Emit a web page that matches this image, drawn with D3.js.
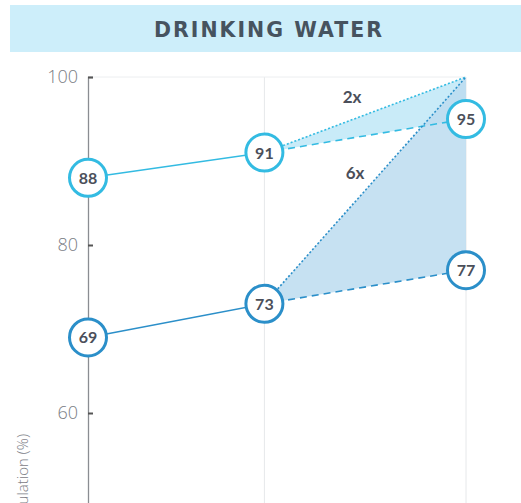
<!DOCTYPE html>
<html><head><meta charset="utf-8">
<script src="https://cdn.jsdelivr.net/npm/d3@7"></script>
<style>html,body{margin:0;padding:0;background:#fff;overflow:hidden}</style>
</head><body>
<svg id="c" width="521" height="503"></svg>
<script>
const title = "DRINKING WATER";
const yLabel = "Population (%)";
const years = [2000, 2014, 2030];
const seriesNames = ["upper", "lower"];
const observed = [[88, 91], [69, 73]];      // values at years[0], years[1]
const projected = [95, 77];                  // projection at years[2]
const target = 100;
const accel = ["2x", "6x"];
const yTicks = [60, 80, 100];

const colors = ["#33bbe2", "#2b8fc9"];
const fills = ["#bfe8f7", "#bcdcf0"];

const svg = d3.select("#c");
const x = d3.scaleLinear().domain([2000, 2030]).range([88, 466]);
const y = d3.scaleLinear().domain([0, 100]).range([917, 77]);

// title band
svg.append("rect").attr("x", 10).attr("y", 5).attr("width", 511).attr("height", 47).attr("fill", "#cdeefa");
svg.append("text").attr("x", 269).attr("y", 36.5).attr("text-anchor", "middle")
  .attr("font-family", "'DejaVu Sans', sans-serif").attr("font-weight", 700).attr("font-size", 20.5)
  .attr("letter-spacing", 2)
  .attr("fill", "#46535f").text(title);

// gridlines
const g = svg.append("g");
g.selectAll("line.v").data(years.slice(1)).join("line")
  .attr("x1", d => x(d)).attr("x2", d => x(d)).attr("y1", y(100)).attr("y2", 503)
  .attr("stroke", "#e6e8ea").attr("stroke-width", 1);
g.append("line").attr("x1", x(2000)).attr("x2", x(2030)).attr("y1", y(100)).attr("y2", y(100))
  .attr("stroke", "#eceef0");

// y axis
const ax = svg.append("g").attr("transform", `translate(${x(2000)},0)`)
  .call(d3.axisRight(y).tickValues(yTicks).tickSize(5).tickFormat(""));
ax.select(".domain").attr("stroke", "#8a8d92").attr("stroke-width", 1.3);
ax.selectAll(".tick line").attr("stroke", "#555").attr("stroke-width", 2);
svg.selectAll("text.yt").data(yTicks).join("text").attr("class", "yt")
  .attr("x", 78).attr("y", d => y(d) + 6).attr("text-anchor", "end")
  .attr("font-family", "'Open Sans', sans-serif").attr("font-weight", 300).attr("font-size", 18)
  .attr("fill", "#7a7d84").text(d => d);

svg.append("text").attr("transform", `translate(28,434) rotate(-90)`).attr("text-anchor", "end")
  .attr("font-family", "'Open Sans', sans-serif").attr("font-weight", 300).attr("font-size", 15)
  .attr("fill", "#7d8087").text(yLabel);

// fills (triangles)
seriesNames.forEach((s, i) => {
  const pts = [[x(years[1]), y(observed[i][1])], [x(years[2]), y(target)], [x(years[2]), y(projected[i])]];
  svg.append("path").attr("d", d3.line()(pts) + "Z").attr("fill", fills[i]).attr("opacity", 0.85);
});

seriesNames.forEach((s, i) => {
  const c = colors[i];
  svg.append("path").attr("d", d3.line()(years.slice(0, 2).map((yr, k) => [x(yr), y(observed[i][k])])))
    .attr("fill", "none").attr("stroke", c).attr("stroke-width", 1.5);
  svg.append("path").attr("d", d3.line()([[x(years[1]), y(observed[i][1])], [x(years[2]), y(projected[i])]]))
    .attr("fill", "none").attr("stroke", c).attr("stroke-width", 1.6).attr("stroke-dasharray", "7,5");
  svg.append("path").attr("d", d3.line()([[x(years[1]), y(observed[i][1])], [x(years[2]), y(target)]]))
    .attr("fill", "none").attr("stroke", c).attr("stroke-width", 1.6).attr("stroke-dasharray", "2,2");
});

// accel labels
const accPos = [[352, 103], [355, 179]];
accel.forEach((a, i) => {
  svg.append("text").attr("x", accPos[i][0]).attr("y", accPos[i][1]).attr("text-anchor", "middle")
    .attr("font-family", "Lato, sans-serif").attr("font-weight", 700).attr("font-size", 17)
    .attr("fill", "#4b4f5a").text(a);
});

// circles
seriesNames.forEach((s, i) => {
  const pts = [[years[0], observed[i][0]], [years[1], observed[i][1]], [years[2], projected[i]]];
  const gg = svg.append("g");
  gg.selectAll("circle").data(pts).join("circle")
    .attr("cx", d => x(d[0])).attr("cy", d => y(d[1])).attr("r", 18.5)
    .attr("fill", "#fff").attr("stroke", colors[i]).attr("stroke-width", 3);
  gg.selectAll("text").data(pts).join("text")
    .attr("x", d => x(d[0])).attr("y", d => y(d[1]) + 6).attr("text-anchor", "middle")
    .attr("font-family", "Lato, sans-serif").attr("font-weight", 700).attr("font-size", 16)
    .attr("fill", "#4b4f5a").text(d => d[1]);
});
</script>
</body></html>
